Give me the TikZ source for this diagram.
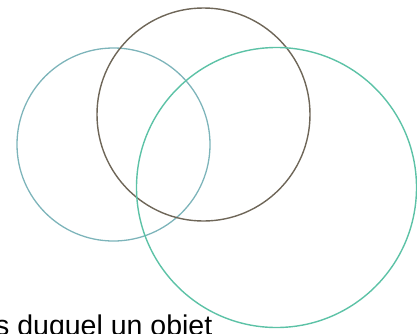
\documentclass[tikz,border=0pt]{standalone}
\usepackage{fontspec}
\setmainfont{Liberation Sans}
\usepackage{tikz}
\definecolor{leftring}{HTML}{7DB4BA}
\definecolor{topring}{HTML}{6E6658}
\definecolor{rightring}{HTML}{5CC2A6}

\begin{document}
\begin{tikzpicture}[x=1pt,y=-1pt]
\useasboundingbox (0,0) rectangle (417,333);
\clip (0,0) rectangle (417,333);
\draw[leftring, line width=1.3pt] (113.5,144.5) circle[radius=96.5];
\draw[topring, line width=1.4pt] (203.5,114.5) circle[radius=106.5];
\draw[rightring, line width=1.4pt] (276.5,187.5) circle[radius=140];
\node[anchor=base west, inner sep=0pt, font=\fontsize{28.5}{30}\selectfont] (caption) at (-5,335) {s duquel un objet};
\end{tikzpicture}
\end{document}
